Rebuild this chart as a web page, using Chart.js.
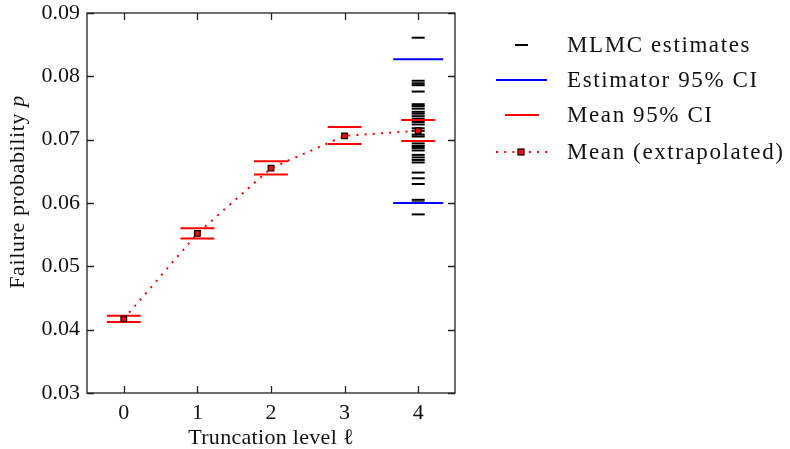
<!DOCTYPE html>
<html>
<head>
<meta charset="utf-8">
<script src="https://cdn.jsdelivr.net/npm/chart.js@4.4.1/dist/chart.umd.min.js"></script>
<style>
  html, body { margin: 0; padding: 0; background: #fff; }
  #wrap { width: 790px; height: 449px; position: relative; }
</style>
</head>
<body>
<div id="wrap"><canvas id="c" width="790" height="449"></canvas></div>
<script>
// ---- data ----
const levels = [0, 1, 2, 3, 4];
const meanValues = [0.0417, 0.0552, 0.0655, 0.0706, 0.0714];
const meanCILower = [0.0412, 0.0544, 0.0645, 0.0693, 0.0698];
const meanCIUpper = [0.0422, 0.0560, 0.0666, 0.0720, 0.0731];
const estimatorLevel = 4;
const estimatorCI = [0.0600, 0.0827];
const mlmcEstimates = [0.0861, 0.0793, 0.0789, 0.0786, 0.0776, 0.0756, 0.0753, 0.0749, 0.0744,
  0.0741, 0.0737, 0.0733, 0.0728, 0.0724, 0.0718, 0.0714, 0.0708, 0.0705, 0.0694, 0.0690,
  0.0687, 0.0683, 0.0676, 0.0672, 0.0668, 0.0664, 0.0648, 0.0639, 0.0630, 0.0605, 0.0601, 0.0582];
const yTicks = [0.03, 0.04, 0.05, 0.06, 0.07, 0.08, 0.09];
const legendLabels = ['MLMC estimates', 'Estimator 95% CI', 'Mean 95% CI', 'Mean (extrapolated)'];

// ---- styles ----
const SERIF = '"Liberation Serif", "DejaVu Serif", serif';
const RED = '#ff0000';
const BLUE = '#0000ff';
const AXIS = '#222222';
const meanCIHalf = 0.23;
const estCIHalf = 0.34;

function segments(xs, ys, half) {
  const out = [];
  xs.forEach((x, i) => {
    out.push({x: x - half, y: ys[i]}, {x: x + half, y: ys[i]}, {x: x, y: null});
  });
  return out;
}

const meanCIData = segments(levels, meanCILower, meanCIHalf)
  .concat(segments(levels, meanCIUpper, meanCIHalf));
const estCIData = segments(estimatorCI.map(() => estimatorLevel), estimatorCI, estCIHalf);
const estData = mlmcEstimates.map(v => ({x: estimatorLevel, y: v}));
const meanData = levels.map((l, i) => ({x: l, y: meanValues[i]}));

const framePlugin = {
  id: 'frame',
  afterDraw(chart) {
    const {ctx, chartArea: a, scales} = chart;
    ctx.save();
    ctx.strokeStyle = AXIS;
    ctx.lineWidth = 1.3;
    ctx.strokeRect(a.left, a.top, a.right - a.left, a.bottom - a.top);
    const tl = 7;
    ctx.beginPath();
    scales.x.ticks.forEach(t => {
      const px = Math.round(scales.x.getPixelForValue(t.value)) + 0.5;
      ctx.moveTo(px, a.bottom); ctx.lineTo(px, a.bottom - tl);
      ctx.moveTo(px, a.top); ctx.lineTo(px, a.top + tl);
    });
    scales.y.ticks.forEach(t => {
      const py = Math.round(scales.y.getPixelForValue(t.value)) + 0.5;
      ctx.moveTo(a.left, py); ctx.lineTo(a.left + tl, py);
      ctx.moveTo(a.right, py); ctx.lineTo(a.right - tl, py);
    });
    ctx.stroke();

    // axis titles
    ctx.fillStyle = '#111';
    ctx.font = '22px ' + SERIF;
    ctx.letterSpacing = '0.3px';
    ctx.textAlign = 'center';
    ctx.textBaseline = 'middle';
    ctx.fillText('Truncation level \u2113', (a.left + a.right) / 2, 438);

    ctx.translate(18, 192);
    ctx.rotate(-Math.PI / 2);
    ctx.letterSpacing = '0.6px';
    const t1 = 'Failure probability ';
    const t2 = 'p';
    ctx.font = '22px ' + SERIF;
    const w1 = ctx.measureText(t1).width;
    ctx.font = 'italic 22px ' + SERIF;
    const w2 = ctx.measureText(t2).width;
    const start = -(w1 + w2) / 2;
    ctx.textAlign = 'left';
    ctx.font = '22px ' + SERIF;
    ctx.fillText(t1, start, 0);
    ctx.font = 'italic 22px ' + SERIF;
    ctx.fillText(t2, start + w1, 0);
    ctx.restore();

    // legend
    ctx.save();
    const rows = [45, 80, 115, 152];
    const tx = 567;
    ctx.font = '23px ' + SERIF;
    ctx.letterSpacing = '1.6px';
    ctx.fillStyle = '#111';
    ctx.textAlign = 'left';
    ctx.textBaseline = 'middle';
    legendLabels.forEach((s, i) => ctx.fillText(s, tx, rows[i] + 1));
    ctx.lineCap = 'butt';
    // estimates
    ctx.strokeStyle = '#000'; ctx.lineWidth = 2;
    ctx.beginPath(); ctx.moveTo(515, rows[0]); ctx.lineTo(528, rows[0]); ctx.stroke();
    // estimator CI
    ctx.strokeStyle = BLUE; ctx.lineWidth = 2.2;
    ctx.beginPath(); ctx.moveTo(496, rows[1]); ctx.lineTo(547, rows[1]); ctx.stroke();
    // mean CI
    ctx.strokeStyle = RED; ctx.lineWidth = 2;
    ctx.beginPath(); ctx.moveTo(505, rows[2]); ctx.lineTo(539, rows[2]); ctx.stroke();
    // mean extrapolated
    ctx.setLineDash([2, 6.2]);
    ctx.beginPath(); ctx.moveTo(496, rows[3]); ctx.lineTo(548, rows[3]); ctx.stroke();
    ctx.setLineDash([]);
    ctx.fillStyle = RED; ctx.strokeStyle = '#000'; ctx.lineWidth = 1.2;
    ctx.fillRect(518, rows[3] - 3, 6, 6);
    ctx.strokeRect(518, rows[3] - 3, 6, 6);
    ctx.restore();
  }
};

new Chart(document.getElementById('c'), {
  type: 'scatter',
  data: {
    datasets: [
      {
        label: 'Mean (extrapolated)',
        data: meanData,
        showLine: true,
        borderColor: RED,
        borderWidth: 2,
        borderDash: [2, 6.2],
        pointStyle: 'rect',
        pointRadius: 4,
        pointBackgroundColor: RED,
        pointBorderColor: '#000',
        pointBorderWidth: 1.2,
        order: 0
      },
      {
        label: 'Mean 95% CI',
        data: meanCIData,
        showLine: true,
        spanGaps: false,
        borderColor: RED,
        borderWidth: 2,
        pointRadius: 0,
        order: 1
      },
      {
        label: 'Estimator 95% CI',
        data: estCIData,
        showLine: true,
        spanGaps: false,
        borderColor: BLUE,
        borderWidth: 2.2,
        pointRadius: 0,
        order: 2
      },
      {
        label: 'MLMC estimates',
        data: estData,
        showLine: false,
        pointStyle: 'line',
        pointRadius: 6.5,
        pointBorderColor: '#000',
        pointBorderWidth: 2,
        order: 3
      }
    ]
  },
  options: {
    responsive: false,
    animation: false,
    devicePixelRatio: 1,
    layout: { padding: { top: 13, right: 335, left: 0, bottom: 0 } },
    plugins: { legend: { display: false }, tooltip: { enabled: false } },
    scales: {
      x: {
        type: 'linear',
        min: -0.5, max: 4.5,
        afterBuildTicks: s => { s.ticks = levels.map(v => ({value: v})); },
        afterFit: s => { s.height = 56; s.paddingLeft = 0; s.paddingRight = 0; },
        grid: { drawOnChartArea: false, drawTicks: false },
        border: { display: false },
        ticks: {
          padding: 7,
          color: '#111',
          font: { family: SERIF, size: 22 },
          callback: v => String(v)
        }
      },
      y: {
        type: 'linear',
        min: 0.03, max: 0.09,
        afterBuildTicks: s => { s.ticks = yTicks.map(v => ({value: v})); },
        afterFit: s => { s.width = 87; s.paddingTop = 0; s.paddingBottom = 0; },
        grid: { drawOnChartArea: false, drawTicks: false },
        border: { display: false },
        ticks: {
          padding: 7,
          color: '#111',
          font: { family: SERIF, size: 22 },
          callback: v => v.toFixed(2)
        }
      }
    }
  },
  plugins: [framePlugin]
});
</script>
</body>
</html>
